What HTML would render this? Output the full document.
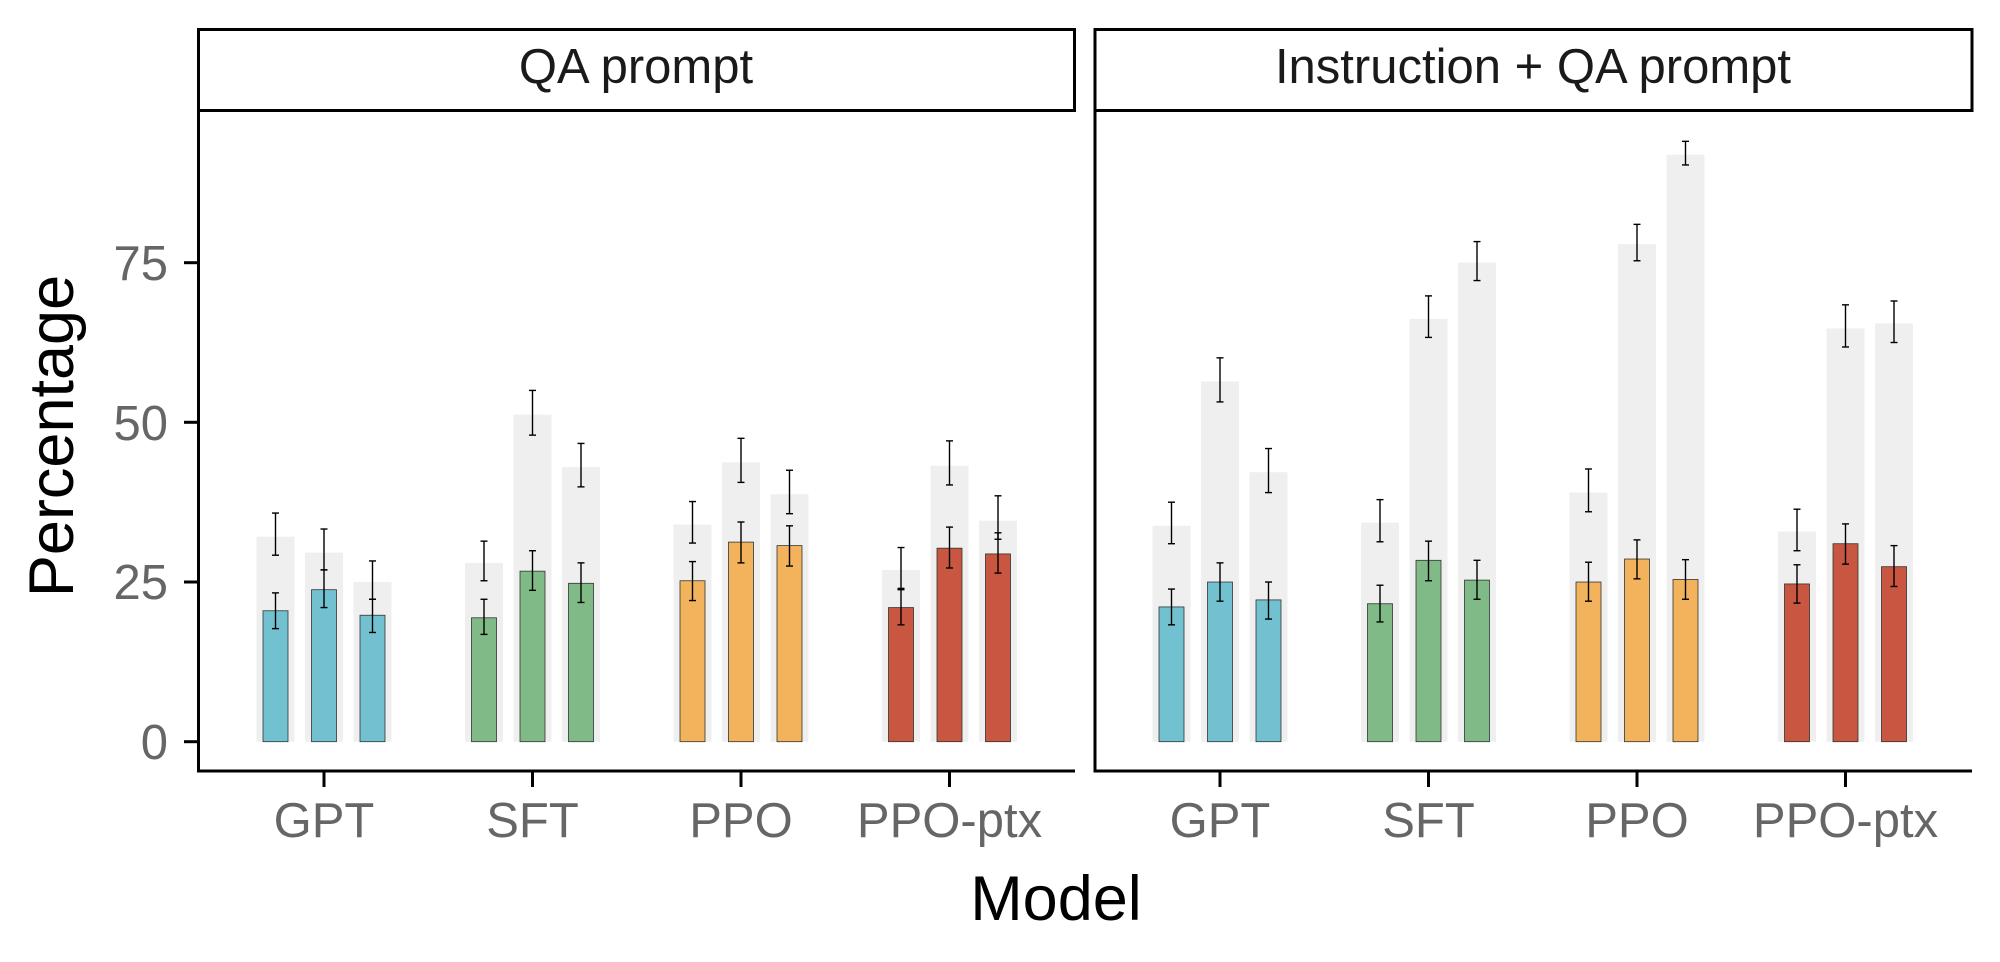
<!DOCTYPE html>
<html><head><meta charset="utf-8"><style>
html,body{margin:0;padding:0;background:#fff;}
svg{display:block;font-family:"Liberation Sans",Arial,sans-serif;}
</style></head><body>
<svg id="s" width="2000" height="962" viewBox="0 0 2000 962" xmlns="http://www.w3.org/2000/svg">
<rect width="2000" height="962" fill="#fff"/>
<g id="bars"></g>
<!-- strips -->
<rect x="198.5" y="29.5" width="876" height="81" fill="#fff" stroke="#000" stroke-width="3"/>
<rect x="1095" y="29.5" width="877" height="81" fill="#fff" stroke="#000" stroke-width="3"/>
<text x="636" y="83" font-size="49" text-anchor="middle" fill="#1a1a1a">QA prompt</text>
<text x="1533" y="83" font-size="49" text-anchor="middle" fill="#1a1a1a">Instruction + QA prompt</text>
<!-- axes -->
<polyline points="198.5,110 198.5,771 1075,771" fill="none" stroke="#000" stroke-width="3"/>
<polyline points="1095,110 1095,771 1972,771" fill="none" stroke="#000" stroke-width="3"/>
<g stroke="#000" stroke-width="3">
<line x1="184" y1="741.7" x2="198" y2="741.7"/>
<line x1="184" y1="582" x2="198" y2="582"/>
<line x1="184" y1="422.3" x2="198" y2="422.3"/>
<line x1="184" y1="262.7" x2="198" y2="262.7"/>
<line x1="324" y1="771" x2="324" y2="787"/>
<line x1="532.5" y1="771" x2="532.5" y2="787"/>
<line x1="741" y1="771" x2="741" y2="787"/>
<line x1="949.5" y1="771" x2="949.5" y2="787"/>
<line x1="1220" y1="771" x2="1220" y2="787"/>
<line x1="1428.5" y1="771" x2="1428.5" y2="787"/>
<line x1="1637" y1="771" x2="1637" y2="787"/>
<line x1="1845.5" y1="771" x2="1845.5" y2="787"/>
</g>
<g font-size="49" fill="#666" text-anchor="end">
<text x="168" y="759">0</text>
<text x="168" y="599">25</text>
<text x="168" y="440">50</text>
<text x="168" y="280">75</text>
</g>
<g font-size="49" fill="#666" text-anchor="middle">
<text x="324" y="837">GPT</text>
<text x="532.5" y="837">SFT</text>
<text x="741" y="837">PPO</text>
<text x="949.5" y="837">PPO-ptx</text>
<text x="1220" y="837">GPT</text>
<text x="1428.5" y="837">SFT</text>
<text x="1637" y="837">PPO</text>
<text x="1845.5" y="837">PPO-ptx</text>
</g>
<text x="1056" y="920" font-size="63" text-anchor="middle" fill="#000">Model</text>
<text transform="translate(73,436) rotate(-90)" font-size="63" text-anchor="middle" fill="#000">Percentage</text>
</svg>
<script>
(function(){
var g=document.getElementById('bars');
var NS='http://www.w3.org/2000/svg';
function Y(v){return 741.7-v*6.387;}
function el(t,a){var e=document.createElementNS(NS,t);for(var k in a)e.setAttribute(k,a[k]);g.appendChild(e);}
var cols=['#72c1d0','#7fba87','#f2b35c','#c85640'];
// [grayVal,gHi,gLo,colVal,cHi,cLo]
var L=[
[[32.1,35.8,29.2,20.5,23.3,17.7],[29.6,33.3,26.9,23.8,26.9,21],[25,28.3,22.3,19.8,22.3,17.1]],
[[28,31.4,25.2,19.4,22.3,16.8],[51.2,55,48,26.7,29.9,23.7],[43,46.7,39.9,24.8,28,21.8]],
[[34,37.6,31.1,25.2,28.2,22.1],[43.75,47.5,40.6,31.25,34.4,28],[38.75,42.5,35.7,30.7,33.8,27.5]],
[[26.9,30.4,23.8,21,24,18.3],[43.2,47.1,40.2,30.3,33.6,27.2],[34.6,38.5,31.7,29.4,32.7,26.4]]];
var R=[
[[33.8,37.5,31,21.1,23.9,18.3],[56.4,60.1,53.2,25,28,22],[42.2,45.9,39,22.2,25,19.2]],
[[34.3,37.9,31.3,21.6,24.5,18.75],[66.2,69.8,63.3,28.4,31.4,25.2],[75,78.3,72.2,25.3,28.4,22.3]],
[[39,42.7,36,25,28.1,22],[77.9,81,75.3,28.6,31.6,25.5],[91.9,94,90.3,25.4,28.5,22.3]],
[[32.9,36.4,29.9,24.7,27.7,21.7],[64.7,68.4,61.8,31,34.1,27.8],[65.5,69,62.5,27.4,30.7,24.3]]];
function panel(D,x0){
 for(var i=0;i<4;i++){for(var j=0;j<3;j++){
  var d=D[i][j];var cx=x0+i*208.5+(j-1)*48.5;
  el('rect',{x:cx-19,y:Y(d[0]),width:38,height:Y(0)-Y(d[0]),fill:'#efefef'});
  el('rect',{x:cx-12.5,y:Y(d[3]),width:25,height:Y(0)-Y(d[3]),fill:cols[i],stroke:'#333','stroke-width':0.8});
  [[d[1],d[2]],[d[4],d[5]]].forEach(function(p){
   el('line',{x1:cx,x2:cx,y1:Y(p[0]),y2:Y(p[1]),stroke:'#000','stroke-width':1.4});
   el('line',{x1:cx-3.5,x2:cx+3.5,y1:Y(p[0]),y2:Y(p[0]),stroke:'#000','stroke-width':1.4});
   el('line',{x1:cx-3.5,x2:cx+3.5,y1:Y(p[1]),y2:Y(p[1]),stroke:'#000','stroke-width':1.4});
  });
 }}
}
panel(L,324);panel(R,1220);
})();
</script>
</body></html>
